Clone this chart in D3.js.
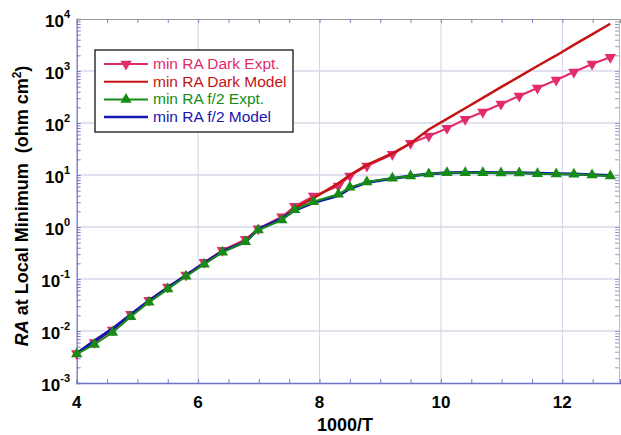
<!DOCTYPE html>
<html>
<head>
<meta charset="utf-8">
<script src="https://cdn.jsdelivr.net/npm/d3@7"></script>
<style>
  body { margin: 0; background: #fff; }
  svg { font-family: Arial, "Liberation Sans", sans-serif; }
</style>
</head>
<body>
<svg id="chart" width="621" height="435"></svg>
<script>
// 1000/T values of the measured points (model uses same grid)
const xVals = [4.0, 4.29, 4.59, 4.89, 5.19, 5.5, 5.8, 6.1, 6.4, 6.78, 6.99, 7.38, 7.59, 7.9, 8.31, 8.5, 8.78, 9.2, 9.5, 9.8,
               10.1, 10.4, 10.69, 10.99, 11.29, 11.59, 11.9, 12.19, 12.49, 12.79];
const darkExpt = [0.0037, 0.0060, 0.0105, 0.021, 0.039, 0.070, 0.119, 0.209, 0.356, 0.58, 0.93, 1.58, 2.5, 3.94, 6.14, 9.6, 14.9, 25.0, 40.7, 56.3,
                  79, 118, 163, 232, 330, 471, 671, 957, 1365, 1834];
const darkModel = [0.0037, 0.0064, 0.0110, 0.0205, 0.038, 0.068, 0.117, 0.200, 0.34, 0.52, 0.90, 1.45, 2.3, 3.6, 6.9, 10, 15.6, 26, 40.7, 75,
                   120, 192, 305, 490, 780, 1250, 1990, 3180, 5080, 8100];
const f2Expt = [0.0036, 0.0055, 0.0094, 0.0188, 0.0356, 0.064, 0.113, 0.192, 0.326, 0.52, 0.875, 1.36, 2.15, 3.07, 4.26, 5.8, 7.33, 8.64, 9.58, 10.5,
                11.1, 11.1, 11.1, 10.9, 10.9, 10.6, 10.5, 10.3, 10.0, 9.6];
const f2Model = [0.0037, 0.0064, 0.0110, 0.0205, 0.038, 0.068, 0.117, 0.200, 0.34, 0.52, 0.90, 1.45, 2.1, 2.95, 4.0, 5.5, 7.2, 8.6, 9.6, 10.5,
                 11.0, 11.2, 11.2, 11.1, 11.0, 10.8, 10.6, 10.4, 10.1, 9.8];

const xTicks = [4, 6, 8, 10, 12];
const xGrid = [6, 8, 10, 12];
const decades = [-3, -2, -1, 0, 1, 2, 3, 4];
const legendNames = ["min RA Dark Expt.", "min RA Dark Model", "min RA f/2 Expt.", "min RA f/2 Model"];

const pink = "#e32a6b", darkRed = "#c41414", green = "#168c16", blue = "#1616b0";

const svg = d3.select("#chart");
const pLeft = 76.7, pRight = 620, pTop = 19, pBottom = 383;

const x = d3.scaleLinear().domain([4, 12.95]).range([pLeft, pRight]);
const y = d3.scaleLog().domain([1e-3, 1e4]).range([pBottom, pTop]);

// gridlines
svg.append("g").selectAll("line")
    .data(decades.slice(1, -1))
    .join("line")
    .attr("x1", pLeft).attr("x2", pRight)
    .attr("y1", d => y(Math.pow(10, d))).attr("y2", d => y(Math.pow(10, d)))
    .style("stroke", "#c6c6e0").style("stroke-width", 1.2);

svg.append("g").selectAll("line")
    .data(xGrid)
    .join("line")
    .attr("x1", d => x(d)).attr("x2", d => x(d))
    .attr("y1", pTop).attr("y2", pBottom)
    .style("stroke", "#d4d4ea").style("stroke-width", 1);

// minor ticks on log axis
const minorY = [];
decades.slice(0, -1).forEach(e => { for (let k = 1; k < 10; k++) minorY.push(k * Math.pow(10, e)); });
minorY.push(1e4);

const yAxisL = svg.append("g")
    .attr("transform", `translate(${pLeft},0)`)
    .call(d3.axisLeft(y).tickValues(minorY).tickSize(-4).tickFormat(""));
yAxisL.select(".domain").style("stroke", "#7272c4").style("stroke-width", 1.3);
yAxisL.selectAll(".tick line").style("stroke", "#7c7cc8");

const yAxisR = svg.append("g")
    .attr("transform", `translate(${pRight - 1},0)`)
    .call(d3.axisRight(y).tickValues(minorY).tickSize(-4).tickFormat(""));
yAxisR.select(".domain").style("stroke", "#bbbbbb");
yAxisR.selectAll(".tick line").style("stroke", "#9a9acc");

const halfTicks = d3.range(4, 13, 0.5);
const xAxisB = svg.append("g")
    .attr("transform", `translate(0,${pBottom})`)
    .call(d3.axisBottom(x).tickValues(halfTicks).tickSize(-4).tickFormat(""));
xAxisB.select(".domain").style("stroke", "#7272c4").style("stroke-width", 1.3);
xAxisB.selectAll(".tick line").style("stroke", "#7c7cc8");

const xAxisT = svg.append("g")
    .attr("transform", `translate(0,${pTop})`)
    .call(d3.axisTop(x).tickValues(halfTicks).tickSize(-4).tickFormat(""));
xAxisT.select(".domain").style("stroke", "#999999");
xAxisT.selectAll(".tick line").style("stroke", "#7c7cc8");

// tick labels
svg.append("g").selectAll("text")
    .data(xTicks)
    .join("text")
    .attr("x", d => x(d)).attr("y", 408)
    .attr("text-anchor", "middle")
    .style("font-size", "17px").style("font-weight", "bold")
    .text(d => d);

const yLab = svg.append("g").selectAll("text")
    .data(decades)
    .join("text")
    .attr("x", 70).attr("y", d => y(Math.pow(10, d)) + 8)
    .attr("text-anchor", "end")
    .style("font-size", "17px").style("font-weight", "bold");
yLab.append("tspan").text("10");
yLab.append("tspan").attr("dy", -9).style("font-size", "11px").text(d => d);

// axis titles
svg.append("text")
    .attr("x", 345).attr("y", 431)
    .attr("text-anchor", "middle")
    .style("font-size", "18px").style("font-weight", "bold")
    .text("1000/T");

const yt = svg.append("text")
    .attr("transform", "translate(28,206) rotate(-90)")
    .attr("text-anchor", "middle")
    .style("font-size", "18px").style("font-weight", "bold");
yt.append("tspan").style("font-style", "italic").text("RA");
yt.append("tspan").text(" at Local Minimum\u00a0 (ohm cm");
yt.append("tspan").attr("dy", -7).style("font-size", "12px").text("2");
yt.append("tspan").attr("dy", 7).text(")");

// series
const line = d3.line().x(d => x(d[0])).y(d => y(d[1]));
const pts = vals => xVals.map((v, i) => [v, vals[i]]);
const triUp = d3.symbol().type(d3.symbolTriangle).size(55);

svg.append("path").datum(pts(darkExpt)).attr("d", line)
    .style("fill", "none").style("stroke", pink).style("stroke-width", 2);
svg.append("g").selectAll("path")
    .data(pts(darkExpt))
    .join("path")
    .attr("transform", d => `translate(${x(d[0])},${y(d[1])}) rotate(180)`)
    .attr("d", triUp)
    .style("fill", pink);

svg.append("path").datum(pts(darkModel)).attr("d", line)
    .style("fill", "none").style("stroke", darkRed).style("stroke-width", 2.5);

svg.append("path").datum(pts(f2Model)).attr("d", line)
    .style("fill", "none").style("stroke", blue).style("stroke-width", 3);

svg.append("path").datum(pts(f2Expt)).attr("d", line)
    .style("fill", "none").style("stroke", green).style("stroke-width", 2);
svg.append("g").selectAll("path")
    .data(pts(f2Expt))
    .join("path")
    .attr("transform", d => `translate(${x(d[0])},${y(d[1])})`)
    .attr("d", triUp)
    .style("fill", green);

// legend
const legend = svg.append("g");
legend.append("rect")
    .attr("x", 95).attr("y", 50).attr("width", 198).attr("height", 82)
    .style("fill", "#fff").style("stroke", "#000").style("stroke-width", 1.2);

const legColors = [pink, darkRed, green, blue];
const legMarks = [180, null, 0, null];
legendNames.forEach((name, i) => {
    const ly = 64 + i * 17.7;
    legend.append("line")
        .attr("x1", 104).attr("x2", 148).attr("y1", ly).attr("y2", ly)
        .style("stroke", legColors[i]).style("stroke-width", i === 3 ? 2.5 : 2);
    if (legMarks[i] !== null) {
        legend.append("path")
            .attr("transform", `translate(126,${ly}) rotate(${legMarks[i]})`)
            .attr("d", triUp)
            .style("fill", legColors[i]);
    }
    legend.append("text")
        .attr("x", 153).attr("y", ly + 5)
        .style("font-size", "15.5px")
        .style("fill", legColors[i])
        .text(name);
});
</script>
</body>
</html>
